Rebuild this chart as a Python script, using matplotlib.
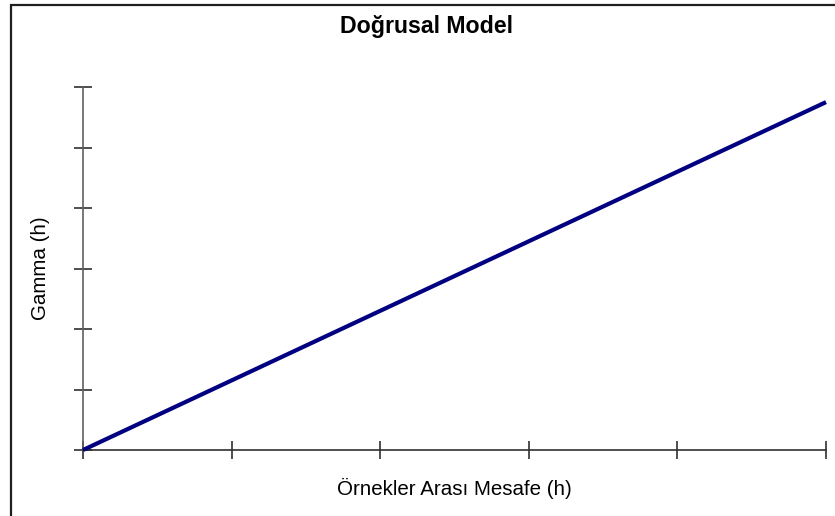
import matplotlib
matplotlib.use("Agg")
import matplotlib.pyplot as plt
from matplotlib.patches import Rectangle

# -- Data ----------------------------------------------------------------------
h_values = [0.0, 5.0]          # sample distance (h)
gamma_values = [0.0, 5.75]     # gamma(h), linear model
x_ticks = [0, 1, 2, 3, 4, 5]
y_ticks = [0, 1, 2, 3, 4, 5, 6]

title = "Doğrusal Model"
xlabel = "Örnekler Arası Mesafe (h)"
ylabel = "Gamma (h)"

plt.rcParams["font.family"] = ["Liberation Sans", "DejaVu Sans"]

fig = plt.figure(figsize=(8.35, 5.16), dpi=100)
fig.patch.set_facecolor("white")

# outer frame (runs off the right and bottom edges)
fig.patches.append(Rectangle((11 / 835, -0.05), 1.2, 1.05 - 5.5 / 516,
                             transform=fig.transFigure, fill=False,
                             edgecolor="#202020", linewidth=1.6))

ax = fig.add_axes([83 / 835, 66 / 516, 743 / 835, 363 / 516])
ax.plot(h_values, gamma_values, color="#000080", linewidth=3.0,
        solid_capstyle="butt", clip_on=False, zorder=3)

ax.set_xlim(0, 5)
ax.set_ylim(0, 6)
ax.set_xticks(x_ticks)
ax.set_yticks(y_ticks)
ax.set_xticklabels([])
ax.set_yticklabels([])
ax.tick_params(direction="inout", length=13.5, width=1.2, color="#303030")

for side in ["top", "right"]:
    ax.spines[side].set_visible(False)
ax.spines["left"].set_color("#606060")
ax.spines["bottom"].set_color("#303030")
ax.spines["left"].set_linewidth(1.2)
ax.spines["bottom"].set_linewidth(1.2)

fig.text(427 / 835, 1 - 27 / 516, title, ha="center", va="center",
         fontsize=16.7, fontweight="bold")
fig.text(454 / 835, 1 - 488 / 516, xlabel, ha="center", va="center",
         fontsize=14.8)
fig.text(40 / 835, 1 - 268 / 516, ylabel, ha="center", va="center",
         fontsize=14.8, rotation=90)

fig.savefig("out.png", dpi=100, facecolor="white")
